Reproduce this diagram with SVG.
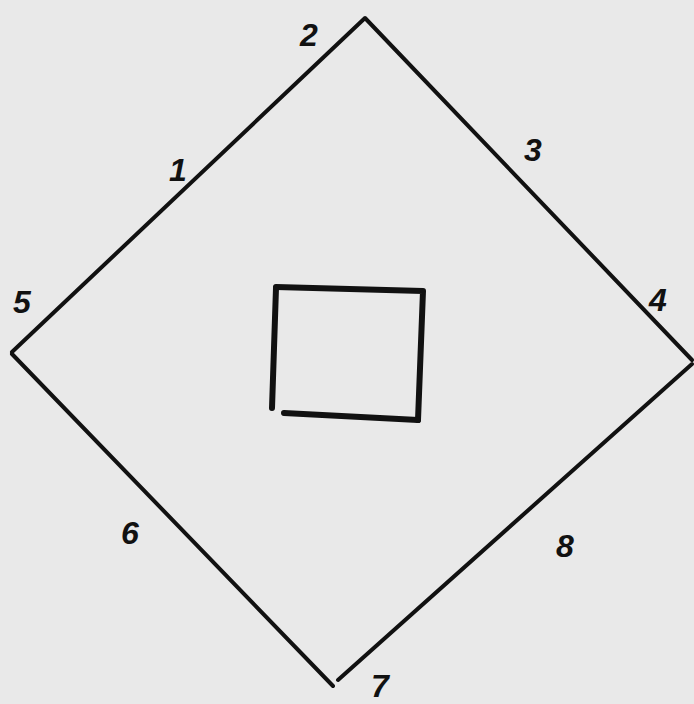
<svg xmlns="http://www.w3.org/2000/svg" width="694" height="704" viewBox="0 0 694 704">
<style>
.ln{fill:none;stroke:#111;stroke-width:4;stroke-linecap:round;stroke-linejoin:round}
.sq{stroke-width:6}
.lb{font-family:"Liberation Sans",Arial,sans-serif;font-size:32px;font-style:italic;font-weight:bold;fill:#111;text-anchor:middle}
</style>
<rect width="694" height="704" fill="#e9e9e9"/>
<g id="diamond">
<path class="ln" d="M12,352 L365,18 L692,360"/>
<path class="ln" d="M12,354 L333,686"/>
<path class="ln" d="M338,680 L692,364"/>
</g>
<g id="square">
<path class="ln sq" d="M276,287 L423,291 L418,420"/>
<path class="ln sq" d="M276,288 L272,408"/>
<path class="ln sq" d="M284,413 L418,420"/>
</g>
<g id="labels">
<text class="lb" x="309" y="46">2</text>
<text class="lb" x="178" y="181">1</text>
<text class="lb" x="533" y="161">3</text>
<text class="lb" x="658" y="311">4</text>
<text class="lb" x="22" y="313">5</text>
<text class="lb" x="130" y="544">6</text>
<text class="lb" x="380" y="697">7</text>
<text class="lb" x="565" y="557">8</text>
</g>
</svg>
